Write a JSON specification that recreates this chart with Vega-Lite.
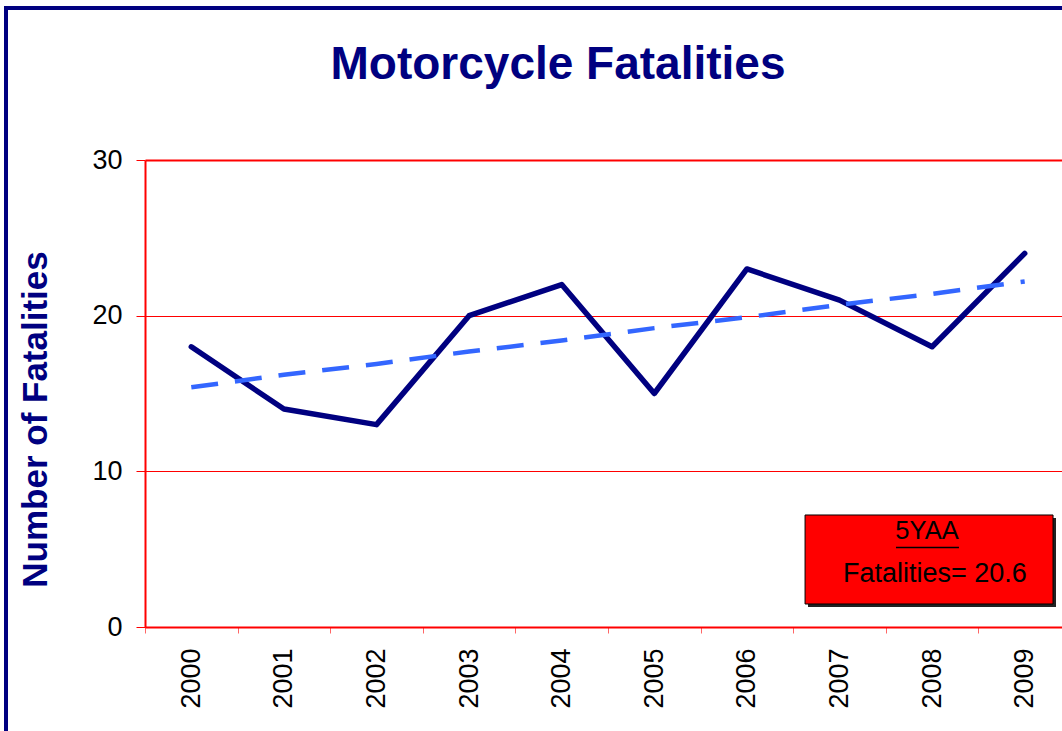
{
  "$schema": "https://vega.github.io/schema/vega-lite/v6.json",
  "width": 926,
  "height": 467,
  "autosize": {"type": "none"},
  "padding": {"left": 145, "top": 160, "right": 0, "bottom": 104},
  "background": "white",
  "config": {"view": {"stroke": null}, "font": "Liberation Sans"},
  "title": {
    "text": "Motorcycle Fatalities",
    "fontSize": 46,
    "fontWeight": "bold",
    "color": "#000080",
    "font": "Liberation Sans",
    "anchor": "middle",
    "dx": -50,
    "offset": -83
  },
  "data": {
    "values": [
      {"year": "2000", "fatalities": 18, "trend": 15.4},
      {"year": "2001", "fatalities": 14, "trend": 16.2},
      {"year": "2002", "fatalities": 13, "trend": 16.9},
      {"year": "2003", "fatalities": 20, "trend": 17.7},
      {"year": "2004", "fatalities": 22, "trend": 18.4},
      {"year": "2005", "fatalities": 15, "trend": 19.2},
      {"year": "2006", "fatalities": 23, "trend": 19.9},
      {"year": "2007", "fatalities": 21, "trend": 20.7},
      {"year": "2008", "fatalities": 18, "trend": 21.4},
      {"year": "2009", "fatalities": 24, "trend": 22.2}
    ]
  },
  "layer": [
    {
      "data": {"values": [{}]},
      "mark": {"type": "rect", "filled": false, "stroke": "#000080", "strokeWidth": 4},
      "encoding": {
        "x": {"datum": -1.501, "type": "quantitative", "scale": {"domain": [0, 10]}, "axis": null},
        "x2": {"datum": 12},
        "y": {"datum": 39.76, "type": "quantitative", "scale": {"domain": [0, 30], "nice": false}},
        "y2": {"datum": -10}
      }
    },
    {
      "mark": {"type": "line", "color": "#000080", "strokeWidth": 5.5, "strokeCap": "round", "strokeJoin": "round"},
      "encoding": {
        "x": {
          "field": "year",
          "type": "ordinal",
          "bandPosition": 0.5,
          "scale": {"type": "band", "paddingInner": 0, "paddingOuter": 0},
          "axis": {
            "title": null,
            "labelAngle": -90,
            "labelFontSize": 27,
            "labelColor": "black",
            "labelFont": "Liberation Sans",
            "labelPadding": 15,
            "tickSize": 6,
            "tickColor": "#FF6666",
            "tickBand": "extent",
            "domainColor": "#FF0000",
            "domainWidth": 2,
            "grid": false
          }
        },
        "y": {
          "field": "fatalities",
          "type": "quantitative",
          "title": "Number of Fatalities",
          "scale": {"domain": [0, 30], "nice": false},
          "axis": {
            "title": "Number of Fatalities",
            "titleFontSize": 35,
            "titleFontWeight": "bold",
            "titleColor": "#000080",
            "titleFont": "Liberation Sans",
            "titleX": -99,
            "titleY": 259,
            "titleBaseline": "alphabetic",
            "titleAngle": -90,
            "titleAlign": "center",
            "values": [0, 10, 20, 30],
            "labelFontSize": 27,
            "labelColor": "black",
            "labelFont": "Liberation Sans",
            "labelPadding": 14,
            "tickSize": 9,
            "tickColor": "#FF0000",
            "tickWidth": 1,
            "domainColor": "#FF0000",
            "domainWidth": 2,
            "grid": true,
            "gridColor": "#FF0000",
            "gridWidth": {"condition": {"test": "datum.value === 30", "value": 2}, "value": 1}
          }
        }
      }
    },
    {
      "mark": {"type": "line", "color": "#3366FF", "strokeWidth": 4.5, "strokeDash": [27, 17]},
      "encoding": {
        "x": {"field": "year", "type": "ordinal", "bandPosition": 0.5, "scale": {"type": "band", "paddingInner": 0, "paddingOuter": 0}, "axis": null},
        "y": {"field": "trend", "type": "quantitative", "title": "Number of Fatalities", "scale": {"domain": [0, 30], "nice": false}}
      }
    },
    {
      "data": {"values": [{}]},
      "mark": {"type": "rect", "color": "#222222"},
      "encoding": {
        "x": {"datum": 7.16, "type": "quantitative", "scale": {"domain": [0, 10]}, "axis": null},
        "x2": {"datum": 9.838},
        "y": {"datum": 7.002, "type": "quantitative", "scale": {"domain": [0, 30], "nice": false}},
        "y2": {"datum": 1.285}
      }
    },
    {
      "data": {"values": [{}]},
      "mark": {"type": "rect", "fill": "#FF0000", "stroke": "black", "strokeWidth": 1},
      "encoding": {
        "x": {"datum": 7.128, "type": "quantitative", "scale": {"domain": [0, 10]}, "axis": null},
        "x2": {"datum": 9.806},
        "y": {"datum": 7.195, "type": "quantitative", "scale": {"domain": [0, 30], "nice": false}},
        "y2": {"datum": 1.478}
      }
    },
    {
      "data": {"values": [{}]},
      "mark": {"type": "text", "text": "5YAA", "fontSize": 25.5, "font": "Liberation Sans", "color": "black", "align": "center", "baseline": "alphabetic"},
      "encoding": {
        "x": {"datum": 8.445, "type": "quantitative", "scale": {"domain": [0, 10]}, "axis": null},
        "y": {"datum": 5.65, "type": "quantitative", "scale": {"domain": [0, 30], "nice": false}}
      }
    },
    {
      "data": {"values": [{}]},
      "mark": {"type": "rule", "color": "black", "strokeWidth": 1.5},
      "encoding": {
        "x": {"datum": 8.11, "type": "quantitative", "scale": {"domain": [0, 10]}, "axis": null},
        "x2": {"datum": 8.79},
        "y": {"datum": 5.11, "type": "quantitative", "scale": {"domain": [0, 30], "nice": false}}
      }
    },
    {
      "data": {"values": [{}]},
      "mark": {"type": "text", "text": "Fatalities= 20.6", "fontSize": 27, "font": "Liberation Sans", "color": "black", "align": "center", "baseline": "alphabetic"},
      "encoding": {
        "x": {"datum": 8.53, "type": "quantitative", "scale": {"domain": [0, 10]}, "axis": null},
        "y": {"datum": 2.89, "type": "quantitative", "scale": {"domain": [0, 30], "nice": false}}
      }
    }
  ],
  "resolve": {"scale": {"x": "independent"}}
}
